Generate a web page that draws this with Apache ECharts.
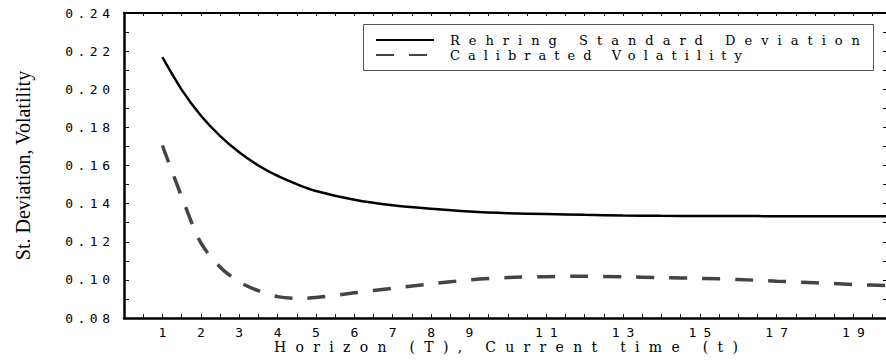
<!DOCTYPE html>
<html>
<head>
<meta charset="utf-8">
<script src="https://cdn.jsdelivr.net/npm/echarts@6/dist/echarts.min.js"></script>
<style>
html,body{margin:0;padding:0;background:#fff;}
#chart{width:886px;height:364px;}
</style>
</head>
<body>
<div id="chart"></div>
<script>
// ---- data ----
const horizon = [1, 1.5, 2, 2.5, 3, 3.5, 4, 4.5, 5, 6, 7, 8, 9, 10, 11, 12, 13, 14, 15, 16, 17, 18, 19, 20];
const rehringSD = [0.2168, 0.1998, 0.1862, 0.1755, 0.1669, 0.1600, 0.1545, 0.1502, 0.1466, 0.1420, 0.1391, 0.1373, 0.1359, 0.1350, 0.1345, 0.1341, 0.1338, 0.1336, 0.1335, 0.1335, 0.1334, 0.1334, 0.1334, 0.1334];
const calibVol = [0.1705, 0.1437, 0.1195, 0.1068, 0.0990, 0.0943, 0.0912, 0.0903, 0.0907, 0.0932, 0.0956, 0.0979, 0.1000, 0.1012, 0.1017, 0.1019, 0.1016, 0.1012, 0.1008, 0.1002, 0.0993, 0.0985, 0.0976, 0.0969];
const xTickLabels = [1, 2, 3, 4, 5, 6, 7, 8, 9, 11, 13, 15, 17, 19];
const seriesNames = ['Rehring Standard Deviation', 'Calibrated Volatility'];
const xTitle = 'Horizon (T), Current time (t)';
const yTitle = 'St. Deviation, Volatility';

const dom = document.getElementById('chart');
const chart = echarts.init(dom, null, {renderer: 'svg'});

const tickFont = {fontFamily: 'DejaVu Sans Mono', fontSize: 13, color: '#000'};
const tickLine = {color: '#000', width: 1};

const option = {
  animation: false,
  backgroundColor: '#fff',
  grid: {left: 124, right: -2, top: 13, bottom: 46, containLabel: false, outerBoundsMode: 'none'},
  legend: {
    orient: 'vertical', left: 375, top: 32.5, padding: 0,
    itemWidth: 58, itemHeight: 15, itemGap: 0,
    itemStyle: {opacity: 0},
    textStyle: {fontFamily: 'DejaVu Serif', fontSize: 13, color: '#000', lineHeight: 15, padding: [0, 0, 0, 11]},
    data: seriesNames
  },
  graphic: [{
    type: 'rect', silent: true, z: 0,
    shape: {x: 363.5, y: 24.5, width: 510, height: 46},
    style: {fill: null, stroke: '#555', lineWidth: 1}
  }],
  xAxis: [{
    type: 'value', position: 'bottom', min: 0, max: 19.9, interval: 1,
    axisLine: {show: true, onZero: false, lineStyle: {color: '#000', width: 2.5}},
    axisTick: {show: true, inside: true, length: 4, lineStyle: tickLine},
    minorTick: {show: true, splitNumber: 2, length: 4, lineStyle: tickLine},
    splitLine: {show: false}, minorSplitLine: {show: false},
    axisLabel: Object.assign({margin: 8, formatter: v => xTickLabels.indexOf(v) >= 0 ? String(v) : ''}, tickFont),
    name: xTitle, nameLocation: 'middle', nameGap: 22, nameMoveOverlap: false,
    nameTextStyle: {fontFamily: 'DejaVu Serif', fontSize: 14, color: '#000'}
  }, {
    type: 'value', position: 'top', min: 0, max: 19.9, interval: 1,
    axisLine: {show: true, onZero: false, lineStyle: {color: '#000', width: 2}},
    axisTick: {show: true, inside: true, length: 3, lineStyle: tickLine},
    minorTick: {show: true, splitNumber: 2, length: 3, lineStyle: tickLine},
    splitLine: {show: false}, axisLabel: {show: false}
  }],
  yAxis: [{
    type: 'value', position: 'left', min: 0.08, max: 0.24, interval: 0.02,
    axisLine: {show: true, onZero: false, lineStyle: {color: '#000', width: 2.5}},
    axisTick: {show: true, inside: true, length: 5, lineStyle: tickLine},
    minorTick: {show: true, splitNumber: 2, length: 5, lineStyle: tickLine},
    splitLine: {show: false}, minorSplitLine: {show: false},
    axisLabel: Object.assign({margin: 14, formatter: v => v.toFixed(2)}, tickFont),
    name: yTitle, nameLocation: 'middle', nameRotate: 90, nameGap: 91, nameMoveOverlap: false,
    nameTextStyle: {fontFamily: 'Liberation Serif', fontSize: 20, color: '#000'}
  }, {
    type: 'value', position: 'right', min: 0.08, max: 0.24, interval: 0.02,
    axisLine: {show: false, onZero: false},
    axisTick: {show: true, inside: true, length: 5, lineStyle: tickLine},
    minorTick: {show: true, splitNumber: 2, length: 5, lineStyle: tickLine},
    splitLine: {show: false}, axisLabel: {show: false}
  }],
  series: [{
    name: seriesNames[0], type: 'line', xAxisIndex: 0, yAxisIndex: 0,
    data: horizon.map((t, i) => [t, rehringSD[i]]),
    symbol: 'none', showSymbol: false, smooth: 0.3,
    lineStyle: {color: '#000', width: 2.5}, itemStyle: {color: '#000'}
  }, {
    name: seriesNames[1], type: 'line', xAxisIndex: 0, yAxisIndex: 0,
    data: horizon.map((t, i) => [t, calibVol[i]]),
    symbol: 'none', showSymbol: false, smooth: 0.3,
    lineStyle: {color: '#444', width: 3.5, type: [18, 15]}, itemStyle: {color: '#444'}
  }]
};
chart.setOption(option);

// widen letter spacing of the texts (the reference uses a very wide font)
function spacingFor(s) {
  if (s === seriesNames[0]) return 9;
  if (s === seriesNames[1]) return 8;
  if (s === xTitle) return 9.3;
  if (/^0\.\d\d$/.test(s)) return 4.5;
  if (/^\d+$/.test(s)) return 7;
  return 0;
}
function applySpacing() {
  dom.querySelectorAll('text').forEach(t => {
    const sp = spacingFor(t.textContent);
    if (!sp) return;
    t.setAttribute('letter-spacing', sp);
    const a = t.getAttribute('text-anchor');
    const dx = a === 'end' ? sp : (a === 'middle' ? sp / 2 : 0);
    if (dx) t.setAttribute('dx', dx);
  });
}
applySpacing();
chart.on('finished', applySpacing);
setTimeout(applySpacing, 50);
</script>
</body>
</html>
